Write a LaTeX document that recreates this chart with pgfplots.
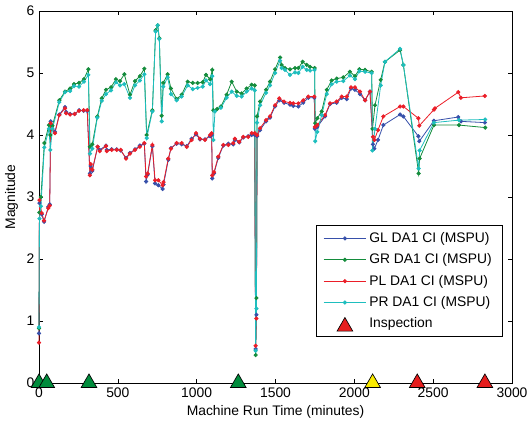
\documentclass[border=0pt]{standalone}
\usepackage{fontspec}
\setmainfont{Liberation Sans}
\usepackage{pgfplots}
\pgfplotsset{compat=1.18}
\usepackage{pgfplotstable}
\definecolor{cGL}{RGB}{55,80,170}
\definecolor{cGR}{RGB}{20,140,60}
\definecolor{cPL}{RGB}{235,30,40}
\definecolor{cPR}{RGB}{30,190,190}
\definecolor{triG}{RGB}{0,140,60}
\definecolor{triY}{RGB}{250,235,0}
\definecolor{triR}{RGB}{230,30,30}

\pgfplotstableread{
x y
0 0.80
3 2.90
17 2.72
32 2.60
59 2.84
68 2.88
74 4.22
101 4.05
129 4.33
165 4.45
172 4.37
197 4.34
226 4.34
254 4.40
283 4.39
306 4.39
323 3.38
328 3.50
338 3.42
372 3.81
385 3.76
425 3.83
430 3.76
461 3.77
493 3.77
518 3.75
552 3.63
577 3.71
609 3.77
640 3.83
668 3.86
679 3.25
689 3.36
719 3.82
736 3.22
757 3.19
784 3.13
790 3.20
820 3.60
837 3.79
873 3.86
905 3.85
937 3.82
968 3.94
996 4.01
1021 3.93
1053 3.93
1085 3.98
1095 4.00
1099 3.30
1110 3.38
1137 3.63
1169 3.83
1201 3.86
1232 3.85
1242 3.92
1270 3.88
1296 3.96
1327 3.98
1349 4.00
1368 4.00
1374 0.55
1379 1.10
1383 3.98
1402 4.08
1440 4.22
1465 4.28
1497 4.46
1524 4.56
1554 4.52
1592 4.49
1613 4.47
1645 4.46
1676 4.52
1708 4.60
1746 4.60
1750 4.10
1765 4.13
1814 4.30
1846 4.50
1888 4.52
1920 4.60
1952 4.58
1979 4.75
2004 4.73
2036 4.66
2068 4.56
2099 4.70
2118 3.85
2127 3.78
2150 3.92
2184 4.16
2290 4.33
2311 4.30
2406 3.98
2412 3.90
2505 4.23
2659 4.29
2676 4.22
2828 4.20
}\GL

\pgfplotstableread{
x y
0 0.88
3 2.75
12 3.00
34 3.87
63 4.16
72 4.00
85 4.15
129 4.56
165 4.70
197 4.75
222 4.82
254 4.84
285 4.90
313 5.06
323 3.81
338 3.85
370 4.30
398 4.59
425 4.73
457 4.77
488 4.90
514 4.87
541 4.98
577 4.65
609 4.87
640 4.95
668 5.07
683 4.00
719 4.40
740 5.69
753 5.77
763 5.56
778 4.31
788 4.84
816 4.98
837 4.75
873 4.58
905 4.65
943 4.86
975 4.84
1006 4.84
1038 4.85
1059 4.97
1085 4.90
1099 5.05
1106 4.40
1130 4.42
1154 4.46
1190 4.65
1222 4.86
1254 4.70
1285 4.67
1317 4.75
1349 4.81
1368 4.80
1374 0.45
1379 1.37
1383 4.30
1402 4.54
1440 4.73
1465 4.86
1497 5.06
1529 5.25
1539 5.13
1560 5.08
1592 5.06
1624 5.08
1645 5.08
1672 5.18
1698 5.13
1719 5.10
1748 5.08
1752 4.19
1765 4.27
1793 4.38
1825 4.73
1856 4.88
1888 4.91
1930 4.93
1972 5.02
2004 4.95
2032 5.06
2068 5.05
2110 5.02
2115 4.10
2131 4.48
2167 4.89
2194 5.18
2290 5.37
2311 5.13
2408 3.38
2414 3.62
2505 4.16
2664 4.16
2830 4.12
}\GR

\pgfplotstableread{
x y
0 0.65
3 2.95
17 2.74
32 2.62
59 2.82
68 2.86
74 4.19
101 4.03
129 4.32
165 4.43
172 4.35
197 4.33
226 4.34
254 4.39
283 4.40
306 4.40
323 3.35
328 3.53
338 3.44
372 3.81
385 3.74
425 3.82
430 3.74
461 3.76
493 3.76
518 3.76
552 3.62
577 3.70
609 3.76
640 3.81
668 3.87
679 3.33
689 3.38
719 3.84
736 3.27
757 3.27
784 3.19
790 3.24
820 3.62
837 3.78
873 3.87
905 3.87
937 3.81
968 3.92
996 4.03
1021 3.94
1053 3.92
1085 4.00
1095 4.03
1099 3.35
1110 3.40
1137 3.65
1169 3.84
1201 3.84
1232 3.87
1242 3.94
1270 3.89
1296 3.97
1327 3.97
1349 4.03
1368 4.03
1374 0.60
1379 1.04
1383 4.00
1402 4.11
1440 4.24
1465 4.30
1497 4.48
1524 4.59
1554 4.54
1592 4.52
1613 4.51
1645 4.51
1676 4.56
1708 4.62
1746 4.62
1750 4.13
1765 4.16
1814 4.32
1846 4.51
1888 4.54
1920 4.62
1952 4.62
1979 4.77
2004 4.77
2036 4.70
2068 4.56
2099 4.70
2118 3.97
2127 3.92
2150 4.08
2184 4.30
2290 4.46
2311 4.46
2406 4.27
2412 4.15
2505 4.41
2511 4.43
2659 4.69
2676 4.60
2828 4.63
}\PL

\pgfplotstableread{
x y
0 0.90
3 2.65
12 2.85
34 3.80
63 4.10
72 3.76
85 4.10
129 4.53
165 4.69
197 4.71
222 4.79
254 4.78
285 4.86
313 4.97
323 3.70
338 3.78
370 4.28
398 4.55
425 4.66
457 4.72
488 4.85
514 4.80
541 4.82
577 4.60
609 4.80
640 4.88
668 4.98
683 3.95
719 4.38
740 5.67
753 5.77
763 5.55
778 4.22
788 4.78
816 4.93
837 4.66
873 4.56
905 4.62
943 4.80
975 4.74
1006 4.76
1038 4.78
1059 4.88
1085 4.82
1099 4.95
1106 3.92
1116 4.38
1154 4.44
1190 4.60
1222 4.70
1254 4.63
1285 4.62
1317 4.70
1349 4.75
1368 4.72
1374 0.52
1379 1.20
1383 4.20
1402 4.48
1440 4.68
1465 4.80
1497 5.00
1529 5.20
1539 5.08
1560 5.05
1592 4.97
1624 5.01
1645 5.00
1672 5.10
1698 5.05
1719 5.04
1748 5.05
1752 3.90
1765 4.05
1793 4.32
1825 4.66
1856 4.82
1888 4.86
1930 4.87
1972 4.96
2004 4.90
2032 5.03
2068 5.02
2110 5.00
2115 3.75
2131 4.10
2167 4.80
2194 5.18
2290 5.39
2311 5.13
2408 3.46
2414 3.75
2505 4.20
2664 4.24
2830 4.25
}\PR

\begin{document}
\begin{tikzpicture}
\begin{axis}[
  scale only axis,
  width=354.75pt, height=279pt,
  xmin=0, xmax=3000, ymin=0, ymax=6,
  xtick={0,500,...,3000}, ytick={0,1,...,6},
  tick align=inside,
  major tick length=3pt,
  every tick/.style={black, line width=0.4pt},
  axis line style={line width=0.6pt},
  /pgf/number format/assume math mode=true,
  /pgf/number format/1000 sep={},
  every tick label/.append style={font=\fontsize{10.4}{12}\selectfont},
  label style={font=\fontsize{10.4}{12}\selectfont},
  xlabel={Machine Run Time (minutes)},
  ylabel={Magnitude},
  xlabel style={yshift=1pt},
  ylabel style={yshift=-0.5pt},
  clip=false,
  legend style={
    at={(0.979,0.124)}, anchor=south east,
    draw=black, fill=white,
    font=\fontsize{10.4}{12}\selectfont,
    row sep=3pt,
    inner xsep=5.5pt, inner ysep=3pt,
    cells={anchor=west},
  },
  legend image code/.code={
    \draw[mark repeat=2,mark phase=2] plot coordinates {(0pt,0pt)(16pt,0pt)(32pt,0pt)};
  },
  every axis plot/.append style={line width=0.6pt, mark size=1.25pt},
]
\addplot[cGL, mark=*, mark options={fill=cGL, draw=cGL}] table {\GL};
\addlegendentry{GL DA1 CI (MSPU)}
\addplot[cGR, mark=*, mark options={fill=cGR, draw=cGR}] table {\GR};
\addlegendentry{GR DA1 CI (MSPU)}
\addplot[cPL, mark=*, mark options={fill=cPL, draw=cPL}] table {\PL};
\addlegendentry{PL DA1 CI (MSPU)}
\addplot[cPR, mark=*, mark options={fill=cPR, draw=cPR}] table {\PR};
\addlegendentry{PR DA1 CI (MSPU)}
\addplot[only marks, mark=triangle*, mark size=6.8pt, line width=0.5pt, mark options={fill=triG, draw=black}, forget plot] coordinates {(0,0) (49,0) (317,0) (1264,0)};
\addplot[only marks, mark=triangle*, mark size=6.8pt, line width=0.5pt, mark options={fill=triY, draw=black}, forget plot] coordinates {(2116,0)};
\addplot[only marks, mark=triangle*, mark size=6.8pt, line width=0.5pt, mark options={fill=triR, draw=black},
  legend image code/.code={\draw[mark options={fill=triR, draw=black}] plot coordinates {(16pt,-2pt)};}] coordinates {(2399,0) (2828,0)};
\addlegendentry{Inspection}
\end{axis}
\pgfresetboundingbox
\path ([xshift=-29.25pt,yshift=-34.5pt]current axis.south west) rectangle ([xshift=13.5pt,yshift=8.25pt]current axis.north east);
\end{tikzpicture}
\end{document}
